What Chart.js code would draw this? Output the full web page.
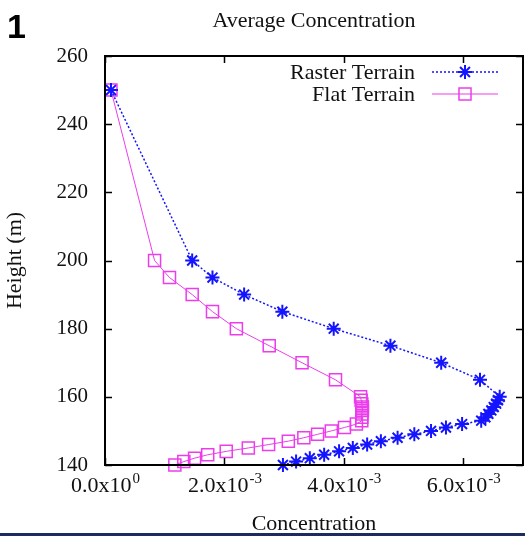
<!DOCTYPE html>
<html>
<head>
<meta charset="utf-8">
<script src="https://cdn.jsdelivr.net/npm/chart.js@4/dist/chart.umd.min.js"></script>
<style>
  html, body { margin: 0; padding: 0; background: #fff; }
  #wrap { width: 525px; height: 536px; position: relative; }
</style>
</head>
<body>
<div id="wrap"><canvas id="c" width="525" height="536"></canvas></div>
<script>
// Vertical profiles of mean concentration (units of 1e-3) against height (m)
const heights = [250, 200, 195, 190, 185, 180, 175, 170, 165, 160, 159, 158, 157, 156, 155, 154, 153,
                 152, 151, 150, 149, 148, 147, 146, 145, 144, 143, 142, 141, 140];
const rasterConc = [0.10, 1.46, 1.80, 2.33, 2.97, 3.83, 4.78, 5.63, 6.28, 6.61, 6.58, 6.55, 6.51, 6.47, 6.42, 6.37, 6.30,
                    5.98, 5.71, 5.46, 5.18, 4.90, 4.62, 4.39, 4.15, 3.92, 3.67, 3.43, 3.20, 2.98];
const flatConc = [0.10, 0.83, 1.08, 1.46, 1.80, 2.20, 2.75, 3.30, 3.86, 4.28, 4.29, 4.30, 4.31, 4.31, 4.30, 4.30, 4.30,
                  4.21, 4.01, 3.79, 3.56, 3.33, 3.07, 2.74, 2.40, 2.03, 1.72, 1.50, 1.32, 1.17];
const seriesNames = ['Raster Terrain', 'Flat Terrain'];

// Axis ticks
const xTickValues = [0, 0.002, 0.004, 0.006];
const xTickMantissa = ['0.0', '2.0', '4.0', '6.0'];
const xTickExponent = ['0', '-3', '-3', '-3'];
const yTickValues = [140, 160, 180, 200, 220, 240, 260];

const SCALE = 1e-3;
const toPoints = (conc) => conc.map((c, i) => ({ x: c * SCALE, y: heights[i] }));

const BLUE = '#1414ff';
const MAGENTA = '#ec3cec';
const SERIF = '"Liberation Serif", "Times New Roman", serif';

// Frame, ticks, labels, legend and titles in a gnuplot-like style
const decor = {
  id: 'decor',
  afterDraw(chart) {
    const ctx = chart.ctx;
    const a = chart.chartArea;
    const xs = chart.scales.x, ys = chart.scales.y;
    ctx.save();

    // plot frame
    ctx.strokeStyle = '#000';
    ctx.lineWidth = 2;
    ctx.strokeRect(a.left, a.top, a.right - a.left, a.bottom - a.top);

    // inward ticks, mirrored on opposite sides
    const tl = 7;
    ctx.lineWidth = 1.5;
    ctx.beginPath();
    xTickValues.forEach(v => {
      const px = Math.round(xs.getPixelForValue(v)) + 0.5;
      ctx.moveTo(px, a.bottom); ctx.lineTo(px, a.bottom - tl);
      ctx.moveTo(px, a.top); ctx.lineTo(px, a.top + tl);
    });
    yTickValues.forEach(v => {
      const py = Math.round(ys.getPixelForValue(v)) + 0.5;
      ctx.moveTo(a.left, py); ctx.lineTo(a.left + tl, py);
      ctx.moveTo(a.right, py); ctx.lineTo(a.right - tl, py);
    });
    ctx.stroke();

    // y tick labels
    ctx.fillStyle = '#111';
    ctx.font = '21px ' + SERIF;
    ctx.textAlign = 'right';
    ctx.textBaseline = 'middle';
    yTickValues.forEach(v => {
      ctx.fillText(String(v), a.left - 17, ys.getPixelForValue(v));
    });

    // x tick labels with superscript exponent
    ctx.textBaseline = 'alphabetic';
    xTickValues.forEach((v, i) => {
      const base = xTickMantissa[i] + 'x10';
      const exp = xTickExponent[i];
      ctx.font = '22px ' + SERIF;
      const wb = ctx.measureText(base).width;
      ctx.font = '15px ' + SERIF;
      const we = ctx.measureText(exp).width;
      const cx = xs.getPixelForValue(v);
      const x0 = cx - (wb + we) / 2;
      ctx.textAlign = 'left';
      ctx.font = '22px ' + SERIF;
      ctx.fillText(base, x0, 492);
      ctx.font = '15px ' + SERIF;
      ctx.fillText(exp, x0 + wb + 1, 483);
    });

    // axis titles
    ctx.font = '22px ' + SERIF;
    ctx.textAlign = 'center';
    ctx.textBaseline = 'middle';
    ctx.fillText('Concentration', (a.left + a.right) / 2, 524);
    ctx.save();
    ctx.translate(15, (a.top + a.bottom) / 2);
    ctx.rotate(-Math.PI / 2);
    ctx.fillText('Height (m)', 0, 0);
    ctx.restore();

    // chart title
    ctx.font = '22px ' + SERIF;
    ctx.fillText('Average Concentration', (a.left + a.right) / 2, 21);

    // panel number
    ctx.font = 'bold 34px "Liberation Sans", Arial, sans-serif';
    ctx.textAlign = 'left';
    ctx.textBaseline = 'alphabetic';
    ctx.fillStyle = '#000';
    ctx.fillText('1', 7, 38);

    // legend inside the plot, top right
    const rows = [72, 94];
    chart.data.datasets.forEach((ds, i) => {
      const y = rows[i];
      ctx.font = '22px ' + SERIF;
      ctx.textAlign = 'right';
      ctx.textBaseline = 'middle';
      ctx.fillStyle = '#111';
      ctx.fillText(ds.label, 415, y + 1);
      ctx.strokeStyle = ds.borderColor;
      ctx.lineWidth = ds.borderWidth;
      ctx.setLineDash(ds.borderDash || []);
      ctx.beginPath();
      ctx.moveTo(432, y); ctx.lineTo(498, y);
      ctx.stroke();
      ctx.setLineDash([]);
      ctx.strokeStyle = ds.pointBorderColor;
      ctx.fillStyle = ds.pointBackgroundColor;
      ctx.lineWidth = ds.pointBorderWidth;
      Chart.helpers.drawPoint(ctx, {
        pointStyle: ds.pointStyle, radius: ds.pointRadius, rotation: 0, borderWidth: ds.pointBorderWidth
      }, 465, y);
    });

    // dark rule along the bottom edge
    ctx.fillStyle = '#1d2b5e';
    ctx.fillRect(0, 533, chart.width, 3);

    ctx.restore();
  }
};

new Chart(document.getElementById('c'), {
  type: 'scatter',
  data: {
    datasets: [
      {
        label: seriesNames[0],
        data: toPoints(rasterConc),
        showLine: true,
        clip: false,
        borderColor: BLUE,
        borderWidth: 1.5,
        borderDash: [2, 2],
        pointStyle: 'star',
        pointRadius: 7,
        pointBorderColor: BLUE,
        pointBackgroundColor: BLUE,
        pointBorderWidth: 2,
        tension: 0
      },
      {
        label: seriesNames[1],
        data: toPoints(flatConc),
        showLine: true,
        clip: false,
        borderColor: MAGENTA,
        borderWidth: 1,
        pointStyle: 'rect',
        pointRadius: 8.5,
        pointBorderColor: MAGENTA,
        pointBackgroundColor: 'rgba(0,0,0,0)',
        pointBorderWidth: 1.5,
        tension: 0
      }
    ]
  },
  options: {
    responsive: false,
    animation: false,
    devicePixelRatio: 1,
    layout: { autoPadding: false, padding: { left: 105, right: 2, top: 56, bottom: 71 } },
    plugins: { legend: { display: false }, title: { display: false }, tooltip: { enabled: false } },
    scales: {
      x: { type: 'linear', display: false, min: 0, max: 0.007 },
      y: { type: 'linear', display: false, min: 140, max: 260 }
    }
  },
  plugins: [decor]
});
</script>
</body>
</html>
